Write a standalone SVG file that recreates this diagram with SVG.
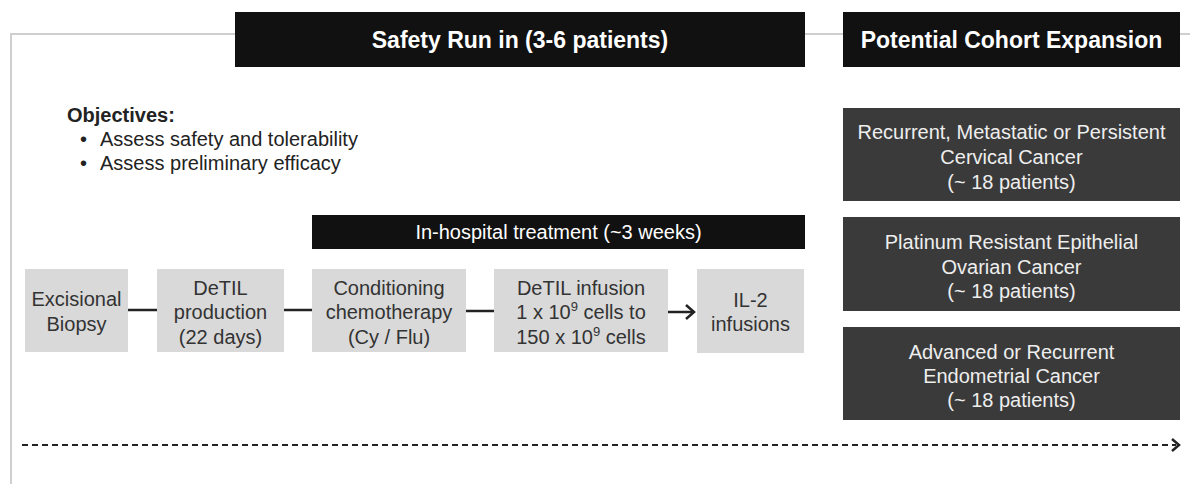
<svg xmlns="http://www.w3.org/2000/svg" width="1190" height="484" viewBox="0 0 1190 484">
  <defs>
    <style>
      text { font-family: "Liberation Sans", Arial, sans-serif; }
      .frame { stroke: #cfcfcf; stroke-width: 2; fill: none; }
      .hdr { fill: #111111; }
      .hdrtxt { fill: #ffffff; font-size: 23px; font-weight: bold; text-anchor: middle; }
      .bar { fill: #111111; }
      .bartxt { fill: #ffffff; font-size: 20px; text-anchor: middle; }
      .proc { fill: #d9d9d9; }
      .proctxt { fill: #333333; font-size: 20px; text-anchor: middle; }
      .cohort { fill: #3a3a3a; }
      .cohorttxt { fill: #eeeeee; font-size: 20px; text-anchor: middle; }
      .obj { fill: #222222; font-size: 20px; }
      .conn { stroke: #222222; stroke-width: 2.5; fill: none; }
      .dash { stroke: #222222; stroke-width: 2; fill: none; stroke-dasharray: 6 4; }
    </style>
  </defs>

  <!-- frame -->
  <g id="frame">
    <polyline class="frame" points="235,34 11,34 11,484"/>
    <line class="frame" x1="805" y1="34" x2="843" y2="34"/>
    <line class="frame" x1="1180" y1="34" x2="1190" y2="34"/>
  </g>

  <g id="safety-header">
    <rect class="hdr" x="235" y="12" width="570" height="55"/>
    <text class="hdrtxt" x="520" y="48">Safety Run in (3-6 patients)</text>
  </g>

  <g id="cohort-header">
    <rect class="hdr" x="843" y="12" width="337" height="55"/>
    <text class="hdrtxt" x="1011.5" y="48">Potential Cohort Expansion</text>
  </g>

  <g id="objectives">
    <text class="obj" x="67" y="122" font-weight="bold">Objectives:</text>
    <text class="obj" x="80" y="146">•</text>
    <text class="obj" x="100" y="146">Assess safety and tolerability</text>
    <text class="obj" x="80" y="170">•</text>
    <text class="obj" x="100" y="170">Assess preliminary efficacy</text>
  </g>

  <g id="in-hospital">
    <rect class="bar" x="312" y="215" width="493" height="34"/>
    <text class="bartxt" x="558.5" y="239">In-hospital treatment (~3 weeks)</text>
  </g>

  <g id="excisional-biopsy">
    <rect class="proc" x="25" y="269" width="103" height="83"/>
    <text class="proctxt" x="76.5" y="306">Excisional</text>
    <text class="proctxt" x="76.5" y="331">Biopsy</text>
  </g>

  <g id="detil-production">
    <rect class="proc" x="157" y="269" width="127" height="83"/>
    <text class="proctxt" x="220.5" y="295">DeTIL</text>
    <text class="proctxt" x="220.5" y="319">production</text>
    <text class="proctxt" x="220.5" y="344">(22 days)</text>
  </g>

  <g id="conditioning">
    <rect class="proc" x="312" y="269" width="154" height="83"/>
    <text class="proctxt" x="389" y="295">Conditioning</text>
    <text class="proctxt" x="389" y="319">chemotherapy</text>
    <text class="proctxt" x="389" y="344">(Cy / Flu)</text>
  </g>

  <g id="detil-infusion">
    <rect class="proc" x="494" y="269" width="174" height="83"/>
    <text class="proctxt" x="581" y="295">DeTIL infusion</text>
    <text class="proctxt" x="581" y="319">1 x 10<tspan font-size="13" dy="-8">9</tspan><tspan dy="8"> cells to</tspan></text>
    <text class="proctxt" x="581" y="344">150 x 10<tspan font-size="13" dy="-8">9</tspan><tspan dy="8"> cells</tspan></text>
  </g>

  <g id="il2-infusions">
    <rect class="proc" x="697" y="269" width="107" height="84"/>
    <text class="proctxt" x="750.5" y="307">IL-2</text>
    <text class="proctxt" x="750.5" y="331">infusions</text>
  </g>

  <g id="cohort-cervical">
    <rect class="cohort" x="843" y="108" width="337" height="93"/>
    <text class="cohorttxt" x="1011.5" y="139">Recurrent, Metastatic or Persistent</text>
    <text class="cohorttxt" x="1011.5" y="164">Cervical Cancer</text>
    <text class="cohorttxt" x="1011.5" y="189">(~ 18 patients)</text>
  </g>

  <g id="cohort-ovarian">
    <rect class="cohort" x="843" y="217" width="337" height="94"/>
    <text class="cohorttxt" x="1011.5" y="249">Platinum Resistant Epithelial</text>
    <text class="cohorttxt" x="1011.5" y="274">Ovarian Cancer</text>
    <text class="cohorttxt" x="1011.5" y="298">(~ 18 patients)</text>
  </g>

  <g id="cohort-endometrial">
    <rect class="cohort" x="843" y="327" width="337" height="93"/>
    <text class="cohorttxt" x="1011.5" y="359">Advanced or Recurrent</text>
    <text class="cohorttxt" x="1011.5" y="383">Endometrial Cancer</text>
    <text class="cohorttxt" x="1011.5" y="407">(~ 18 patients)</text>
  </g>

  <g id="connectors">
    <line class="conn" x1="128" y1="310" x2="157" y2="310"/>
    <line class="conn" x1="284" y1="310" x2="312" y2="310"/>
    <line class="conn" x1="466" y1="311" x2="494" y2="311"/>
    <line class="conn" x1="668" y1="312" x2="694" y2="312"/>
    <polyline class="conn" points="686,305 694,312 686,319" stroke-width="3"/>
    <line class="dash" x1="22" y1="445" x2="1176" y2="445"/>
    <polyline class="conn" points="1172,439 1179,445 1172,451" stroke-width="2.5"/>
  </g>
</svg>
